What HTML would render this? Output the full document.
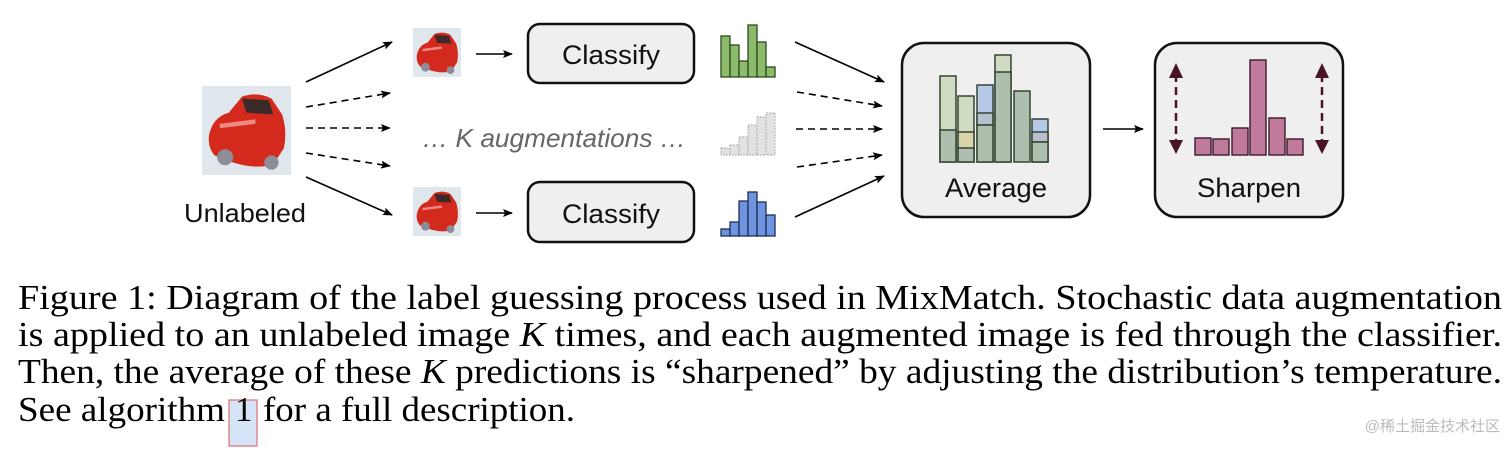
<!DOCTYPE html>
<html><head><meta charset="utf-8"><style>
html,body{margin:0;padding:0;background:#fff;}
svg{display:block}
</style></head><body>
<svg width="1512" height="451" viewBox="0 0 1512 451" xmlns="http://www.w3.org/2000/svg">
<defs>
<marker id="ah" markerWidth="10" markerHeight="8" refX="9" refY="4" orient="auto" markerUnits="userSpaceOnUse">
<path d="M0,0 L10,4 L0,8 L2,4 z" fill="#000"/></marker>
<g id="car">
<rect x="0" y="0" width="100" height="100" fill="#dfe6ec"/>
<path d="M8,55 Q12,35 30,30 L45,12 Q62,6 78,14 L90,32 Q96,50 92,70 L80,88 Q60,94 35,86 L14,78 Q6,68 8,55z" fill="#d42a1e"/>
<path d="M45,14 L75,16 L80,32 L50,30 z" fill="#3a2a2a"/>
<circle cx="26" cy="80" r="9" fill="#8d8d99"/>
<circle cx="78" cy="86" r="8" fill="#8d8d99"/>
<path d="M20,45 L60,40" stroke="#f08a80" stroke-width="5"/>
</g>
</defs>

<g transform="translate(202,86) scale(0.89,0.89)"><use href="#car"/></g>
<text x="245" y="222" font-family="Liberation Sans, sans-serif" font-size="26" text-anchor="middle" fill="#111" textLength="122" lengthAdjust="spacingAndGlyphs">Unlabeled</text>

<g stroke="#000" stroke-width="1.6" fill="none">
<line x1="306" y1="82" x2="392" y2="42" marker-end="url(#ah)"/>
<line x1="306" y1="107" x2="390" y2="93" stroke-dasharray="7,5" marker-end="url(#ah)"/>
<line x1="306" y1="128" x2="390" y2="128" stroke-dasharray="7,5" marker-end="url(#ah)"/>
<line x1="306" y1="153" x2="390" y2="166" stroke-dasharray="7,5" marker-end="url(#ah)"/>
<line x1="306" y1="177" x2="392" y2="215" marker-end="url(#ah)"/>
<line x1="476" y1="54" x2="512" y2="54" marker-end="url(#ah)"/>
<line x1="476" y1="213" x2="512" y2="213" marker-end="url(#ah)"/>
</g>

<g transform="translate(413,28) scale(0.48,0.49)"><use href="#car"/></g>
<g transform="translate(413,187) scale(0.48,0.49)"><use href="#car"/></g>

<rect x="528" y="24" width="166" height="59" rx="12" fill="#efefef" stroke="#111" stroke-width="2.5"/>
<text x="611" y="64" font-family="Liberation Sans, sans-serif" font-size="27" text-anchor="middle" fill="#111" textLength="98" lengthAdjust="spacingAndGlyphs">Classify</text>
<rect x="528" y="182" width="166" height="60" rx="12" fill="#efefef" stroke="#111" stroke-width="2.5"/>
<text x="611" y="223" font-family="Liberation Sans, sans-serif" font-size="27" text-anchor="middle" fill="#111" textLength="98" lengthAdjust="spacingAndGlyphs">Classify</text>

<text x="554" y="147" font-family="Liberation Sans, sans-serif" font-size="26" font-style="italic" text-anchor="middle" fill="#666" textLength="264" lengthAdjust="spacingAndGlyphs">… K augmentations …</text>

<g fill="#8dbb6c" stroke="#2d4a1e" stroke-width="1.3">
<rect x="721" y="36" width="9" height="41"/><rect x="730" y="45" width="9" height="32"/>
<rect x="739" y="61" width="9" height="16"/><rect x="748" y="25" width="9" height="52"/>
<rect x="757" y="42" width="9" height="35"/><rect x="766" y="67" width="9" height="10"/>
</g>
<g fill="#e2e2e2" stroke="#bbb" stroke-width="1.2" stroke-dasharray="2,1">
<rect x="721" y="148" width="9" height="7"/><rect x="730" y="145" width="9" height="10"/>
<rect x="739" y="137" width="9" height="18"/><rect x="748" y="125" width="9" height="30"/>
<rect x="757" y="117" width="9" height="38"/><rect x="766" y="113" width="9" height="42"/>
</g>
<g fill="#6d94dc" stroke="#1d2e5a" stroke-width="1.3">
<rect x="721" y="229" width="9" height="7"/><rect x="730" y="222" width="9" height="14"/>
<rect x="739" y="201" width="9" height="35"/><rect x="748" y="192" width="9" height="44"/>
<rect x="757" y="202" width="9" height="34"/><rect x="766" y="215" width="9" height="21"/>
</g>

<g stroke="#000" stroke-width="1.6" fill="none">
<line x1="795" y1="42" x2="884" y2="82" marker-end="url(#ah)"/>
<line x1="797" y1="92" x2="882" y2="106" stroke-dasharray="7,5" marker-end="url(#ah)"/>
<line x1="796" y1="129" x2="882" y2="129" stroke-dasharray="7,5" marker-end="url(#ah)"/>
<line x1="797" y1="167" x2="882" y2="155" stroke-dasharray="7,5" marker-end="url(#ah)"/>
<line x1="795" y1="217" x2="884" y2="176" marker-end="url(#ah)"/>
<line x1="1103" y1="129" x2="1143" y2="129" marker-end="url(#ah)"/>
</g>

<rect x="902" y="43" width="188" height="174" rx="22" fill="#efefef" stroke="#111" stroke-width="2.5"/>
<g stroke="#2a3a2a" stroke-width="1.4">
<rect x="940" y="76" width="16" height="86" fill="#cfdcc2"/>
<rect x="940" y="130" width="16" height="32" fill="#aebfae"/>
<rect x="958" y="96" width="16" height="66" fill="#cfdcc2"/>
<rect x="958" y="132" width="16" height="18" fill="#d9d3a8"/>
<rect x="958" y="148" width="16" height="14" fill="#aebfae"/>
<rect x="977" y="85" width="16" height="77" fill="#b5c8e8"/>
<rect x="977" y="113" width="16" height="12" fill="#b8bfcc"/>
<rect x="977" y="125" width="16" height="37" fill="#aebfae"/>
<rect x="995" y="55" width="16" height="107" fill="#cfdcc2"/>
<rect x="995" y="72" width="16" height="90" fill="#aebfae"/>
<rect x="1014" y="91" width="16" height="71" fill="#aebfae"/>
<rect x="1032" y="119" width="16" height="43" fill="#b5c8e8"/>
<rect x="1032" y="132" width="16" height="10" fill="#b8bfcc"/>
<rect x="1032" y="142" width="16" height="20" fill="#aebfae"/>
</g>
<text x="996" y="197" font-family="Liberation Sans, sans-serif" font-size="27" text-anchor="middle" fill="#111" textLength="102" lengthAdjust="spacingAndGlyphs">Average</text>

<rect x="1155" y="43" width="188" height="174" rx="22" fill="#efefef" stroke="#111" stroke-width="2.5"/>
<g fill="#c07b9c" stroke="#3a1a2a" stroke-width="1.4">
<rect x="1195" y="138" width="16" height="17"/><rect x="1213" y="139" width="16" height="16"/>
<rect x="1232" y="128" width="16" height="27"/><rect x="1250" y="60" width="16" height="95"/>
<rect x="1269" y="118" width="16" height="37"/><rect x="1287" y="139" width="16" height="16"/>
</g>
<g stroke="#4a1428" stroke-width="2.5" stroke-dasharray="8,5"><line x1="1176" y1="74" x2="1176" y2="143"/><line x1="1322" y1="74" x2="1322" y2="143"/></g>
<g fill="#4a1428">
<path d="M1169,78 L1176,63 L1183,78z"/><path d="M1169,140 L1176,154 L1183,140z"/>
<path d="M1315,78 L1322,63 L1329,78z"/><path d="M1315,140 L1322,154 L1329,140z"/>
</g>
<text x="1249" y="197" font-family="Liberation Sans, sans-serif" font-size="27" text-anchor="middle" fill="#111" textLength="104" lengthAdjust="spacingAndGlyphs">Sharpen</text>

<g font-family="Liberation Serif, serif" font-size="35" fill="#000">
<text x="18" y="309" textLength="1484" lengthAdjust="spacingAndGlyphs">Figure 1: Diagram of the label guessing process used in MixMatch. Stochastic data augmentation</text>
<text x="18" y="346" textLength="1484" lengthAdjust="spacingAndGlyphs">is applied to an unlabeled image <tspan font-style="italic">K</tspan> times, and each augmented image is fed through the classifier.</text>
<text x="18" y="383" textLength="1484" lengthAdjust="spacingAndGlyphs">Then, the average of these <tspan font-style="italic">K</tspan> predictions is “sharpened” by adjusting the distribution’s temperature.</text>
<rect x="229" y="400" width="28" height="46" fill="#d6e4f7" stroke="#e07070" stroke-width="1.2"/>
<text x="18" y="421" textLength="207" lengthAdjust="spacingAndGlyphs">See algorithm</text>
<text x="235" y="421">1</text>
<text x="263" y="421" textLength="312" lengthAdjust="spacingAndGlyphs">for a full description.</text>
</g>
<text x="1500" y="431" font-family="Liberation Sans, Noto Sans CJK SC, sans-serif" font-size="15" text-anchor="end" fill="#bbb">@稀土掘金技术社区</text>
</svg>
</body></html>
